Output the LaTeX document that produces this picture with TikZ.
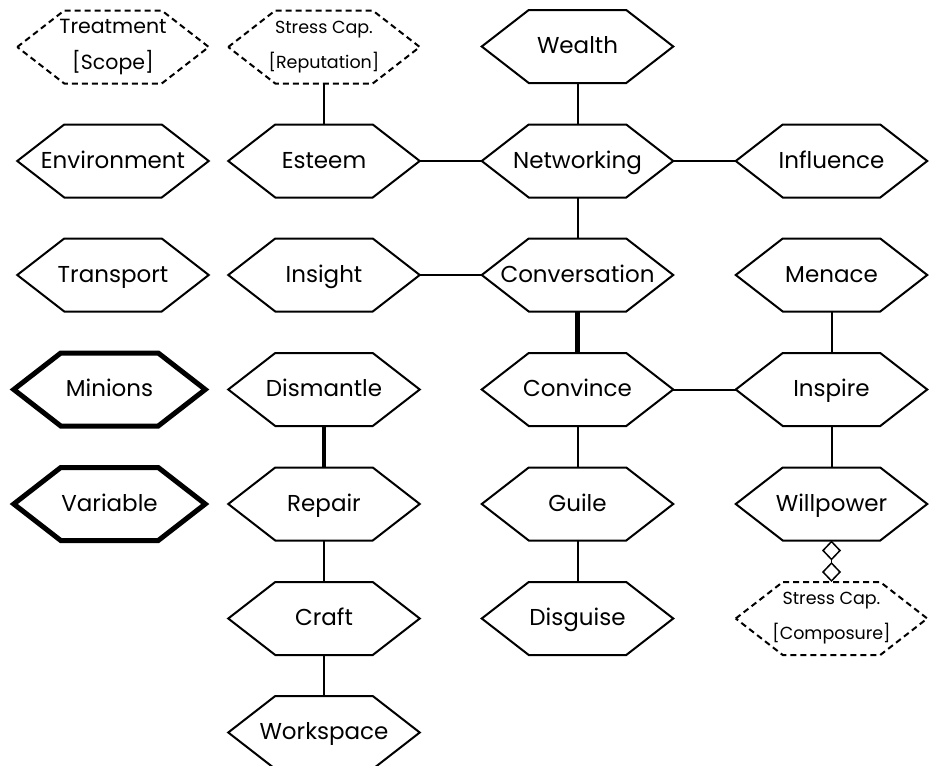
\documentclass[tikz,border=0pt]{standalone}
\usepackage{fontspec}
\setmainfont{Poppins}
\usetikzlibrary{arrows.meta}
\tikzset{
  hexml/.style={draw=none, minimum width=191.5pt, minimum height=73pt, inner sep=0pt, outer sep=0pt, align=center, font=\fontsize{23}{37}\selectfont},
  hex/.style={hexml, text height=18.5pt, text depth=4.1pt},
  midtext/.style={font=\fontsize{20.5}{36}\selectfont},
  smalltext/.style={font=\fontsize{17.5}{35}\selectfont},
  hexnormal/.style={line width=2pt, line join=miter},
  hexbold/.style={line width=5pt, line join=miter},
  hexdashed/.style={line width=2pt, line join=miter, dash pattern=on 6pt off 4pt},
  link/.style={line width=2pt},
  boldlink/.style={line width=4.5pt},
  diamlink/.style={line width=1.5pt, {Diamond[open,length=20pt,width=19pt]}-{Diamond[open,length=20pt,width=19pt]}}
}
\newcommand{\hexof}[2]{\draw[#1] (#2.west) -- ([xshift=47pt]#2.north west) -- ([xshift=-47pt]#2.north east) -- (#2.east) -- ([xshift=-47pt]#2.south east) -- ([xshift=47pt]#2.south west) -- cycle;}
\begin{document}
\begin{tikzpicture}[x=1pt,y=-1pt]
\useasboundingbox (0,0) rectangle (935,766);
% row 1
\node[hexml,midtext] (treat) at (113,47) {Treatment\\{}[Scope]};
\node[hexml,smalltext] (rep) at (324,47) {Stress Cap.\\{}[Reputation]};
\node[hex] (wealth) at (577.5,46.5) {Wealth};
% row 2
\node[hex] (env) at (113,161) {Environment};
\node[hex] (esteem) at (324,161) {Esteem};
\node[hex] (net) at (577.5,161) {Networking};
\node[hex] (infl) at (831.5,161) {Influence};
% row 3
\node[hex] (trans) at (113,275) {Transport};
\node[hex] (insight) at (324,275) {Insight};
\node[hex] (conv) at (577.5,275) {Conversation};
\node[hex] (menace) at (831.5,275) {Menace};
% row 4
\node[hex] (minions) at (109.5,389.5) {Minions};
\node[hex] (dism) at (324,389.5) {Dismantle};
\node[hex] (convince) at (577.5,389.5) {Convince};
\node[hex] (inspire) at (831.5,389.5) {Inspire};
% row 5
\node[hex] (var) at (109.5,504) {Variable};
\node[hex] (repair) at (324,504) {Repair};
\node[hex] (guile) at (577.5,504) {Guile};
\node[hex] (will) at (831.5,504) {Willpower};
% row 6
\node[hex] (craft) at (324,618.5) {Craft};
\node[hex] (disg) at (577.5,618.5) {Disguise};
\node[hexml,smalltext] (comp) at (831.5,618.5) {Stress Cap.\\{}[Composure]};
% row 7
\node[hex] (work) at (324,732.5) {Workspace};
% hexagon outlines
\foreach \n in {wealth,env,esteem,net,infl,trans,insight,conv,menace,dism,convince,inspire,repair,guile,will,craft,disg,work} {\hexof{hexnormal}{\n}}
\foreach \n in {minions,var} {\hexof{hexbold}{\n}}
\foreach \n in {treat,rep,comp} {\hexof{hexdashed}{\n}}
% connectors
\draw[link] (rep.south) -- (esteem.north);
\draw[link] (wealth.south) -- (net.north);
\draw[link] (esteem.east) -- (net.west);
\draw[link] (net.east) -- (infl.west);
\draw[link] (net.south) -- (conv.north);
\draw[link] (insight.east) -- (conv.west);
\draw[boldlink] (conv.south) -- (convince.north);
\draw[link] (convince.east) -- (inspire.west);
\draw[link] (menace.south) -- (inspire.north);
\draw[link] (inspire.south) -- (will.north);
\draw[diamlink] (will.south) -- (comp.north);
\draw[link] (convince.south) -- (guile.north);
\draw[link] (guile.south) -- (disg.north);
\draw[boldlink] (dism.south) -- (repair.north);
\draw[link] (repair.south) -- (craft.north);
\draw[link] (craft.south) -- (work.north);
\end{tikzpicture}
\end{document}
